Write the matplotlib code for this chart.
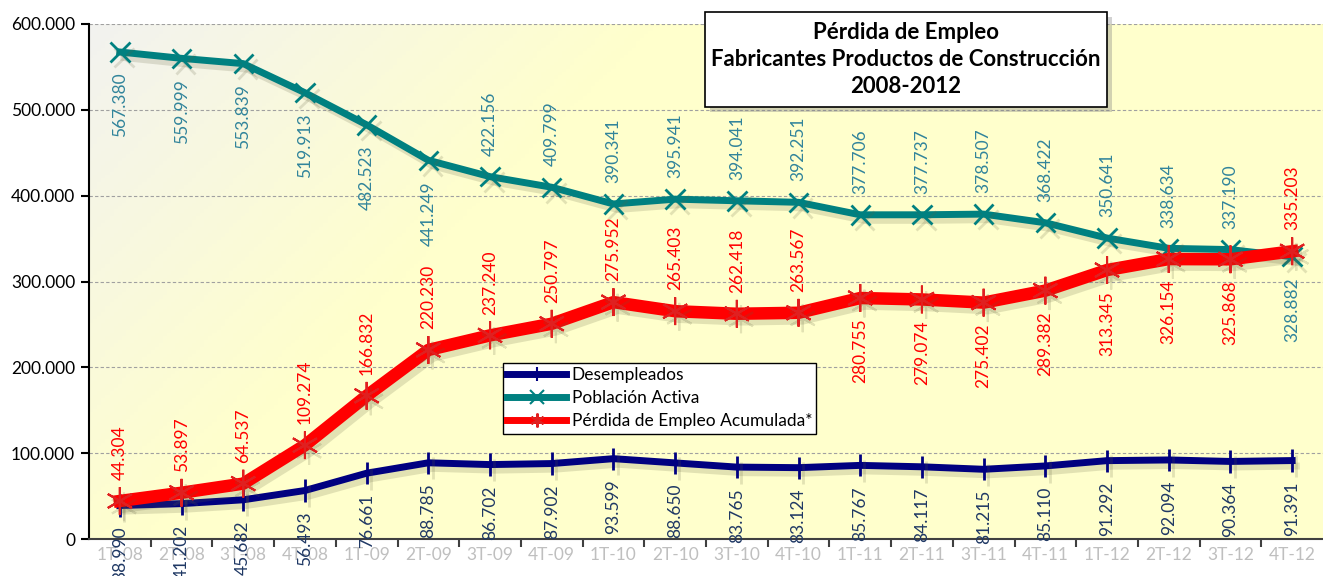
import numpy as np
import matplotlib
matplotlib.use('Agg')
import matplotlib.pyplot as plt
import matplotlib.patheffects as pe
from matplotlib.patches import Rectangle
from matplotlib.ticker import FuncFormatter

plt.rcParams['font.family'] = ['Lato', 'DejaVu Sans']

# Datos trimestrales 2008-2012
trimestres = ['1T-08', '2T-08', '3T-08', '4T-08', '1T-09', '2T-09', '3T-09', '4T-09',
              '1T-10', '2T-10', '3T-10', '4T-10', '1T-11', '2T-11', '3T-11', '4T-11',
              '1T-12', '2T-12', '3T-12', '4T-12']
desempleados = [38990, 41202, 45682, 56493, 76661, 88785, 86702, 87902, 93599, 88650,
                83765, 83124, 85767, 84117, 81215, 85110, 91292, 92094, 90364, 91391]
poblacion_activa = [567380, 559999, 553839, 519913, 482523, 441249, 422156, 409799, 390341, 395941,
                    394041, 392251, 377706, 377737, 378507, 368422, 350641, 338634, 337190, 328882]
perdida_empleo = [44304, 53897, 64537, 109274, 166832, 220230, 237240, 250797, 275952, 265403,
                  262418, 263567, 280755, 279074, 275402, 289382, 313345, 326154, 325868, 335203]

# posicion de etiqueta: 1 encima, -1 debajo
pos_pob = [-1, -1, -1, -1, -1, -1, 1, 1, 1, 1, 1, 1, 1, 1, 1, 1, 1, 1, 1, -1]
pos_per = [1, 1, 1, 1, 1, 1, 1, 1, 1, 1, 1, 1, -1, -1, -1, -1, -1, -1, -1, 1]
pos_des = [-1] * 20


def fmt_miles(v, pos=None):
    return f'{int(v):,}'.replace(',', '.')


fig = plt.figure(figsize=(13.23, 5.76), dpi=100)
ax = fig.add_axes([89 / 1323, 1 - 539 / 576, 1 - 89 / 1323, (539 - 24) / 576])
x = np.arange(len(trimestres))

# fondo degradado
gx, gy = np.meshgrid(np.linspace(0, 1, 300), np.linspace(1, 0, 150))
t = np.clip((gx * 2.4 + (1 - gy) * 1.0) / 1.1, 0, 1)
c0 = np.array([0.95, 0.95, 0.94])
c1 = np.array([1.0, 1.0, 0.80])
img = c0[None, None, :] * (1 - t[..., None]) + c1[None, None, :] * t[..., None]
ax.imshow(img, extent=[0, 1, 0, 1], transform=ax.transAxes, aspect='auto', zorder=0)

sombra = [pe.SimpleLineShadow(offset=(3, -4), shadow_color='#606040', alpha=0.18), pe.Normal()]

ax.plot(x, desempleados, color='#000080', lw=5, marker='|', ms=16, mew=2,
        label='Desempleados', path_effects=sombra, zorder=3)
ax.plot(x, poblacion_activa, color='#008080', lw=5, marker='x', ms=14, mew=2,
        label='Población Activa', path_effects=sombra, zorder=3)
ax.plot(x, perdida_empleo, color='#FF0000', lw=9, marker=(6, 2, 0), ms=20, mew=1.5,
        mec='#E02020', label='Pérdida de Empleo Acumulada*', path_effects=sombra, zorder=4)

series = [(desempleados, pos_des, '#1F3864'),
          (poblacion_activa, pos_pob, '#31849B'),
          (perdida_empleo, pos_per, '#FF0000')]
for valores, posiciones, color in series:
    for i, (v, p) in enumerate(zip(valores, posiciones)):
        ax.annotate(fmt_miles(v), (i, v), xytext=(0, 15 * p), textcoords='offset points',
                    rotation=90, ha='center', va='bottom' if p > 0 else 'top',
                    fontsize=12.5, color=color, zorder=6)

ax.set_xlim(-0.5, 19.5)
ax.set_ylim(0, 600000)
ax.set_yticks(np.arange(0, 600001, 100000))
ax.yaxis.set_major_formatter(FuncFormatter(fmt_miles))
ax.set_xticks(x)
ax.set_xticklabels(trimestres)
ax.set_xticks(np.arange(0.5, 19.5, 1), minor=True)
ax.tick_params(axis='x', which='major', length=0, pad=6, labelsize=12.5, labelcolor='#BFBFBF')
ax.tick_params(axis='x', which='minor', length=6, width=1.5, color='#404040')
ax.tick_params(axis='y', length=6, width=1.5, labelsize=12.5, pad=4)
ax.grid(axis='y', color='#A0A0A0', linestyle=(0, (3, 2)), lw=0.8, zorder=1)
for s in ['top', 'right']:
    ax.spines[s].set_visible(False)
ax.spines['left'].set_linewidth(1.5)
ax.spines['bottom'].set_linewidth(1.5)
ax.spines['bottom'].set_color('#404040')

leg = ax.legend(loc='upper left', bbox_to_anchor=(503 / 1323, 1 - 363 / 576),
                bbox_transform=fig.transFigure, fontsize=12.5, frameon=True, fancybox=False,
                framealpha=1, edgecolor='black', handlelength=3.4, borderpad=0.25,
                labelspacing=0.4, handletextpad=0.3, borderaxespad=0)
leg.get_frame().set_linewidth(1)
leg.set_zorder(10)
for linea in leg.get_lines():
    linea.set_path_effects([])
    linea.set_linewidth(5)
    linea.set_markersize(10)
    linea.set_markeredgewidth(1.5)

# caja del titulo
bx0, by0, bw, bh = 705 / 1323, 1 - 107 / 576, 402 / 1323, 95 / 576
fig.patches.append(Rectangle((bx0 + 0.004, by0 - 0.009), bw, bh, transform=fig.transFigure,
                             facecolor='#808080', alpha=0.35, edgecolor='none', zorder=9))
fig.patches.append(Rectangle((bx0, by0), bw, bh, transform=fig.transFigure,
                             facecolor='white', edgecolor='black', lw=1.2, zorder=10))
fig.text(bx0 + bw / 2, by0 + bh / 2, 'Pérdida de Empleo\nFabricantes Productos de Construcción\n2008-2012',
         ha='center', va='center', fontsize=16, fontweight='bold', linespacing=1.35, zorder=11)

fig.savefig('out.png', dpi=100)
